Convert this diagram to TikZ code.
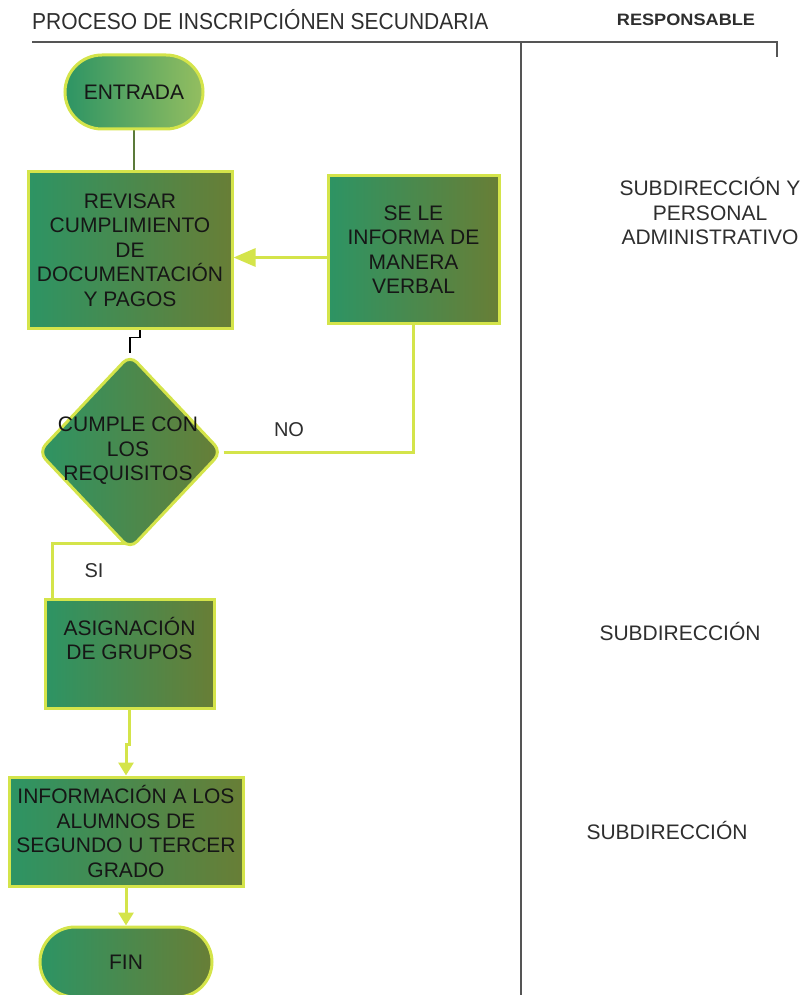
\documentclass[tikz,border=0pt]{standalone}
\usepackage{fontspec}
\usepackage{graphicx}
\setmainfont{Liberation Sans}
\usetikzlibrary{shapes.geometric,shapes.misc,arrows.meta,backgrounds}

\definecolor{boxl}{HTML}{2D9464}
\definecolor{boxr}{HTML}{687E36}
\definecolor{startr}{HTML}{94BE60}
\definecolor{lime}{HTML}{D4E44A}
\definecolor{ink}{HTML}{161616}
\definecolor{rulegray}{HTML}{555555}
\definecolor{headink}{HTML}{2E2E2E}
\definecolor{stem}{HTML}{5B7A3A}

\begin{document}
\begin{tikzpicture}[x=1pt,y=-1pt,
  txt/.style={text=ink, align=center, inner sep=0pt,
    font=\fontsize{21}{24.5}\selectfont},
  base/.style={txt, draw=lime, line width=3pt, left color=boxl, right color=boxr},
  procbox/.style={base, rectangle, minimum width=#1},
  terminal/.style={base, rounded rectangle, minimum width=#1},
  decision/.style={base, diamond, rounded corners=10pt},
  conn/.style={draw=lime, line width=3pt},
  bigtip/.style={-{Triangle[length=22pt,width=18pt]}},
  smalltip/.style={-{Triangle[length=13pt,width=15pt]}},
  header/.style={text=headink, inner sep=0pt},
  role/.style={txt, text=headink}
]
\useasboundingbox (0,0) rectangle (807,995);

% header row and column divider
\node[header, anchor=west, font=\fontsize{21}{24}\selectfont] (title) at (32,20)
  {\scalebox{1}[1.1]{PROCESO DE INSCRIPCIÓNEN SECUNDARIA}};
\node[header, font=\fontsize{16.5}{20}\selectfont\bfseries] (resp) at (686,20)
  {\scalebox{1.1}[1]{RESPONSABLE}};
\draw[rulegray, line width=2pt] (32,42) -- (777,42) -- (777,57);
\draw[rulegray, line width=2pt] (521,42) -- (521,997);

% flow nodes
\node[terminal=138pt, minimum height=74pt, right color=startr] (entrada) at (134,92) {ENTRADA};
\node[procbox=204pt, minimum height=156pt] (revisar) at (130,250)
  {REVISAR\\CUMPLIMIENTO\\DE\\DOCUMENTACIÓN\\Y PAGOS};
\node[procbox=171pt, minimum height=147pt] (informa) at (413.5,249.5)
  {SE LE\\INFORMA DE\\MANERA\\VERBAL};
\node[decision, minimum width=184pt, minimum height=195pt] (dec) at (130,452) {};
\node[txt] (dectext) at (128,451) {CUMPLE CON\\LOS\\REQUISITOS};
\node[procbox=169pt, minimum height=109pt] (asig) at (129.5,653.5)
  {ASIGNACIÓN\\DE GRUPOS\\[6pt]};
\node[procbox=234pt, minimum height=109pt] (info) at (126,831.5)
  {INFORMACIÓN A LOS\\ALUMNOS DE\\SEGUNDO U TERCER\\GRADO};
\node[terminal=172pt, minimum height=70pt] (fin) at (126,962) {FIN};

% branch labels
\node[role, font=\fontsize{20}{24}\selectfont] (no) at (289,430) {NO};
\node[role, font=\fontsize{20}{24}\selectfont] (si) at (94,571) {SI};

% responsible areas
\node[role] (r1) at (710,211) {SUBDIRECCIÓN Y\\PERSONAL\\ADMINISTRATIVO};
\node[role] (r2) at (680,631) {SUBDIRECCIÓN};
\node[role] (r3) at (667,830) {SUBDIRECCIÓN};

% connectors, kept beneath the shapes
\begin{scope}[on background layer]
  \draw[stem, line width=2.5pt] (entrada.south) -- (entrada.south |- revisar.north);
  \draw[black, line width=1.5pt] ([xshift=10pt]revisar.south) -- ++(0,8) -| (dec.north);
  \draw[conn, bigtip] ([yshift=-8pt]informa.west) -- ([yshift=-8pt]informa.west -| revisar.east);
  \draw[conn] (dec.east) -| (informa.south);
  \draw[conn] ([yshift=8pt]dec.south) -| ([xshift=9pt]asig.north west);
  \draw[conn, smalltip] (asig.south) -- ++(0,35) -| (info.north);
  \draw[conn, smalltip] (info.south) -- (fin.north);
\end{scope}
\end{tikzpicture}
\end{document}
